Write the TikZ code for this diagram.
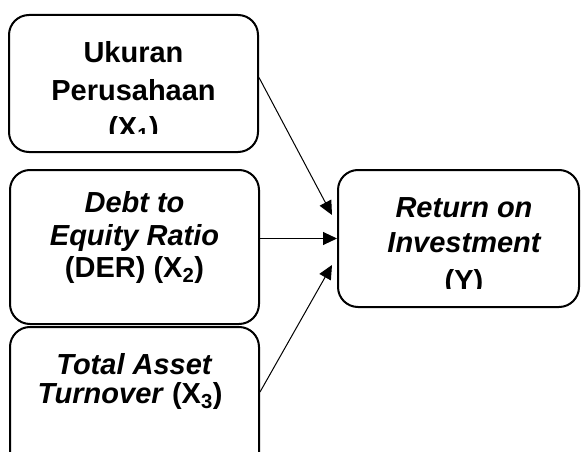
\documentclass[tikz,border=0pt]{standalone}
\usepackage{fontspec}
\setmainfont{Liberation Sans}
\usetikzlibrary{arrows.meta,calc}
\begin{document}
\begin{tikzpicture}[x=1pt,y=-1pt,
 box/.style={draw=black,line width=2pt,rounded corners=20pt,inner sep=0pt},
 lbl/.style={anchor=base,font=\fontsize{29}{33}\selectfont\bfseries,inner sep=0pt},
 arr/.style={line width=1pt,-{Triangle[length=14pt,width=13pt]}}]
\useasboundingbox (0,0) rectangle (581,452);
\clip (0,0) rectangle (581,452);
\node[box,minimum width=249pt,minimum height=137pt] (x1) at (133.5,83.5) {};
\node[box,minimum width=249pt,minimum height=154pt] (x2) at (134.5,247) {};
\node[box,minimum width=249pt,minimum height=153pt] (x3) at (134.5,403.5) {};
\node[box,minimum width=241pt,minimum height=137pt] (y) at (458.5,238.5) {};
\begin{scope}
\clip (0,0) rectangle (581,133);
\node[lbl] (x1a) at (133.5,63) {Ukuran};
\node[lbl] (x1b) at (133.5,100) {Perusahaan};
\node[lbl] (x1c) at (133.5,137) {(X\textsubscript{1})};
\end{scope}
\node[lbl] (x2a) at (134.5,212) {\itshape Debt to};
\node[lbl] (x2b) at (134.5,245) {\itshape Equity Ratio};
\node[lbl] (x2c) at (134.5,277) {(DER) (X\textsubscript{2})};
\node[lbl] (x3a) at (134,374) {\itshape Total Asset};
\node[lbl] (x3b) at (130,403) {\textit{Turnover} (X\textsubscript{3})};
\node[lbl] (ya) at (464,217) {\itshape Return on};
\node[lbl] (yb) at (464,252) {\itshape Investment};
\begin{scope}
\clip (0,0) rectangle (581,288);
\node[lbl] (yc) at (464,290) {(Y)};
\end{scope}
\coordinate (t1) at (332,215);
\coordinate (t3) at (332,265);
\draw[arr] ([yshift=6pt]x1.east) -- (t1);
\draw[arr] (x2.east |- y.west) -- (y.west);
\draw[arr] ([yshift=11.5pt]x3.east) -- (t3);
\end{tikzpicture}
\end{document}
